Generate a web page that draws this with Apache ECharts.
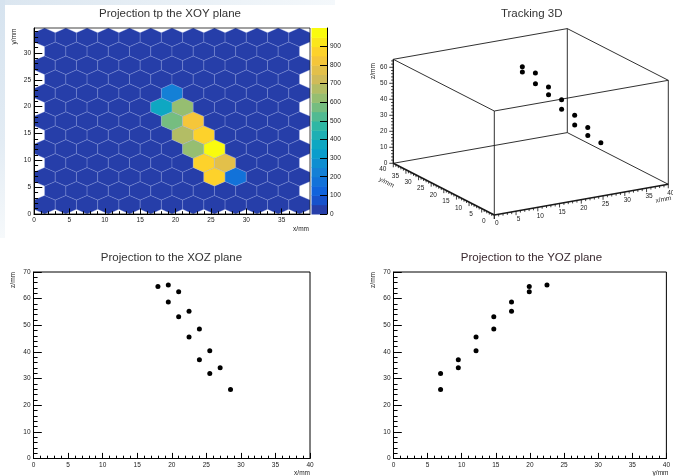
<!DOCTYPE html>
<html>
<head>
<meta charset="utf-8">
<title>Tracking</title>
<script src="https://cdn.jsdelivr.net/npm/echarts@6/dist/echarts.min.js"></script>
<style>
  html, body { margin: 0; padding: 0; background: #ffffff; }
  #c { width: 673px; height: 476px; }
</style>
</head>
<body>
<div id="c"></div>
<script>
// ---- reconstructed hits (mm) ----
const hitX = [18.0, 19.5, 21.0, 19.5, 22.5, 21.0, 24.0, 22.5, 25.5, 24.0, 27.0, 25.5, 28.5];
const hitY = [19.9, 22.5, 19.9, 17.3, 17.3, 14.7, 14.7, 12.1, 12.1, 9.5, 9.5, 6.9, 6.9];
const hitZ = [64.6, 65.1, 62.6, 58.7, 55.3, 53.2, 48.6, 45.6, 40.4, 37.1, 34.1, 31.9, 25.9];
// charge collected by the honeycomb cell of each hit
const hitCharge = [370, 220, 625, 575, 815, 680, 890, 620, 998, 885, 750, 860, 175];

// ---- axis tick values ----
const hexXLabels = [0, 5, 10, 15, 20, 25, 30, 35];
const hexYLabels = [0, 5, 10, 15, 20, 25, 30];
const paletteLabels = [0, 100, 200, 300, 400, 500, 600, 700, 800, 900];
const projXLabels = [0, 5, 10, 15, 20, 25, 30, 35, 40];
const projZLabels = [0, 10, 20, 30, 40, 50, 60, 70];
const cubeXYLabels = [0, 5, 10, 15, 20, 25, 30, 35, 40];
const cubeZLabels = [0, 10, 20, 30, 40, 50, 60];

const FONT = '"Liberation Sans", Arial, Helvetica, sans-serif';

// ---- honeycomb binning (TH2Poly::Honeycomb style) ----
const SIDE = Math.sqrt(3);          // hexagon side
const NCOL = 13, NROW = 13;
const HALFW = SIDE * Math.sqrt(3) / 2;
const hexXMax = NCOL * 2 * HALFW;              // right edge of the even rows
const hexYMax = SIDE / 2 + 1.5 * SIDE * NROW;  // top vertex of the last row
const cells = [];
for (let r = 0; r < NROW; r++) {
  const n = r % 2 === 0 ? NCOL : NCOL - 1;
  const x0 = r % 2 === 0 ? 0 : HALFW;
  const cy = SIDE + 1.5 * SIDE * r;
  for (let k = 0; k < n; k++) {
    cells.push([x0 + HALFW + 2 * HALFW * k, cy, 0]);
  }
}
hitX.forEach((hx, i) => {
  let best = null, bd = 1e9;
  cells.forEach(c => {
    const d = Math.hypot(c[0] - hx, c[1] - hitY[i]);
    if (d < bd) { bd = d; best = c; }
  });
  best[2] += hitCharge[i];
});
const zMax = Math.max(...cells.map(c => c[2]));
const NCONT = 20;

// kBird colour palette
const birdStops = [
  [0.2082, 0.1664, 0.5293], [0.0592, 0.3599, 0.8684], [0.0780, 0.5041, 0.8385],
  [0.0232, 0.6419, 0.7914], [0.1802, 0.7178, 0.6425], [0.5301, 0.7492, 0.4662],
  [0.8186, 0.7328, 0.3499], [0.9956, 0.7862, 0.1968], [0.9764, 0.9832, 0.0539]
];
function bird(f) {
  f = Math.max(0, Math.min(1, f));
  const s = f * (birdStops.length - 1);
  const i = Math.min(birdStops.length - 2, Math.floor(s));
  const t = s - i;
  const c = birdStops[i].map((v, j) => Math.round(255 * (v + (birdStops[i + 1][j] - v) * t)));
  return 'rgb(' + c.join(',') + ')';
}
function bandColor(band) { return bird((band + 0.99) / NCONT); }
function valueColor(v) {
  const band = Math.min(NCONT - 1, Math.floor(v / zMax * NCONT));
  return bandColor(band);
}
const bands = [];
for (let b = 0; b < NCONT; b++) bands.push([b * zMax / NCONT, (b + 1) * zMax / NCONT, b]);

// ---- 3D box (parallel projection) ----
const cubeRange = { x: [0, 40], y: [0, 40], z: [0, 65] };
const CUBE = { origin: [494.3, 215], ex: [174, -30.7], ey: [-101, -51.7], ez: [0, -104] };
function project(x, y, z) {
  const fx = (x - cubeRange.x[0]) / (cubeRange.x[1] - cubeRange.x[0]);
  const fy = (y - cubeRange.y[0]) / (cubeRange.y[1] - cubeRange.y[0]);
  const fz = (z - cubeRange.z[0]) / (cubeRange.z[1] - cubeRange.z[0]);
  return [
    CUBE.origin[0] + CUBE.ex[0] * fx + CUBE.ey[0] * fy + CUBE.ez[0] * fz,
    CUBE.origin[1] + CUBE.ex[1] * fx + CUBE.ey[1] * fy + CUBE.ez[1] * fz
  ];
}
const X0 = cubeRange.x[0], X1 = cubeRange.x[1], Y0 = cubeRange.y[0], Y1 = cubeRange.y[1], Z0 = cubeRange.z[0], Z1 = cubeRange.z[1];
const cubeEdges = [
  // bottom face (front two edges carry the axes)
  [[X0, Y0, Z0], [X1, Y0, Z0], 1.6], [[X0, Y0, Z0], [X0, Y1, Z0], 1.6],
  [[X1, Y0, Z0], [X1, Y1, Z0], 0.9], [[X0, Y1, Z0], [X1, Y1, Z0], 0.9],
  // top face
  [[X0, Y0, Z1], [X1, Y0, Z1], 0.9], [[X0, Y0, Z1], [X0, Y1, Z1], 0.9],
  [[X1, Y0, Z1], [X1, Y1, Z1], 0.9], [[X0, Y1, Z1], [X1, Y1, Z1], 0.9],
  // verticals
  [[X0, Y0, Z0], [X0, Y0, Z1], 0.9], [[X1, Y0, Z0], [X1, Y0, Z1], 0.9],
  [[X0, Y1, Z0], [X0, Y1, Z1], 1.4], [[X1, Y1, Z0], [X1, Y1, Z1], 0.9]
];
const cubeTicks = [];
for (let v = 0; v <= 40; v++) {
  cubeTicks.push({ axis: 'x', v, major: cubeXYLabels.includes(v) });
  cubeTicks.push({ axis: 'y', v, major: cubeXYLabels.includes(v) });
}
for (let v = 0; v <= 64; v += 2) cubeTicks.push({ axis: 'z', v, major: cubeZLabels.includes(v) });

// ---- helpers ----
function range(a, b, step) { const r = []; for (let v = a; v <= b + 1e-9; v += step) r.push(+v.toFixed(6)); return r; }
function axis(o) {
  return {
    type: 'value', gridIndex: o.grid, min: o.min, max: o.max, position: o.pos, z: 10,
    axisLine: { show: !!o.line, onZero: false, lineStyle: { color: '#000', width: 1 } },
    axisTick: { show: true, inside: true, length: o.len, customValues: o.ticks, lineStyle: { color: '#000', width: 1 } },
    axisLabel: o.labels ? {
      show: true, customValues: o.labels, fontSize: 6.5, color: '#1a1a1a', fontFamily: FONT,
      margin: o.margin == null ? 3 : o.margin, showMaxLabel: true, showMinLabel: true
    } : { show: false },
    splitLine: { show: false }
  };
}
function hiddenAxis(grid, min, max, inverse) {
  return { type: 'value', gridIndex: grid, min, max, inverse: !!inverse, show: false, splitLine: { show: false } };
}

const grids = [
  { left: 34, top: 28, width: 276, height: 186, z: 10, show: true, borderColor: '#111', borderWidth: 0.8, backgroundColor: 'transparent' }, // 0 XOY
  { left: 311.5, top: 28, width: 15.5, height: 186 },                                      // 1 palette
  { left: 33.5, top: 272, width: 276.5, height: 186.5, show: true, borderColor: '#000', borderWidth: 1, backgroundColor: 'transparent' }, // 2 XOZ
  { left: 393.5, top: 272, width: 275, height: 186.5, show: true, borderColor: '#000', borderWidth: 1, backgroundColor: 'transparent' },  // 3 YOZ
  { left: 0, top: 0, width: 673, height: 476 }                                              // 4 3D canvas
];

const minorsOf = (lo, hi, step, majors) => range(lo, hi, step).filter(v => !majors.includes(v));

const xAxes = [
  axis({ grid: 0, min: 0, max: hexXMax, pos: 'bottom', line: true, len: 5.6, ticks: hexXLabels, labels: hexXLabels }),           // 0
  axis({ grid: 0, min: 0, max: hexXMax, pos: 'bottom', len: 2.8, ticks: minorsOf(0, 38, 1, hexXLabels) }),                      // 1
  hiddenAxis(1, 0, 1),                                                                                                             // 2
  axis({ grid: 2, min: 0, max: 40, pos: 'bottom', line: true, len: 5.6, ticks: projXLabels, labels: projXLabels }),             // 3
  axis({ grid: 2, min: 0, max: 40, pos: 'bottom', len: 2.8, ticks: minorsOf(0, 40, 1, projXLabels) }),                          // 4
  axis({ grid: 3, min: 0, max: 40, pos: 'bottom', line: true, len: 5.6, ticks: projXLabels, labels: projXLabels }),             // 5
  axis({ grid: 3, min: 0, max: 40, pos: 'bottom', len: 2.8, ticks: minorsOf(0, 40, 1, projXLabels) }),                          // 6
  hiddenAxis(4, 0, 673)                                                                                                            // 7
];
const yAxes = [
  axis({ grid: 0, min: 0, max: hexYMax, pos: 'left', line: true, len: 8.3, ticks: hexYLabels, labels: hexYLabels }),            // 0
  axis({ grid: 0, min: 0, max: hexYMax, pos: 'left', len: 4.1, ticks: minorsOf(0, 34, 1, hexYLabels) }),                        // 1
  axis({ grid: 1, min: 0, max: zMax, pos: 'right', line: true, len: 7, ticks: paletteLabels, labels: paletteLabels }),          // 2
  axis({ grid: 2, min: 0, max: 70, pos: 'left', line: true, len: 8.3, ticks: projZLabels, labels: projZLabels }),               // 3
  axis({ grid: 2, min: 0, max: 70, pos: 'left', len: 4.1, ticks: minorsOf(0, 70, 2, projZLabels) }),                            // 4
  axis({ grid: 3, min: 0, max: 70, pos: 'left', line: true, len: 8.3, ticks: projZLabels, labels: projZLabels }),               // 5
  axis({ grid: 3, min: 0, max: 70, pos: 'left', len: 4.1, ticks: minorsOf(0, 70, 2, projZLabels) }),                            // 6
  hiddenAxis(4, 0, 476, true)                                                                                                      // 7
];

function textEl(x, y, text, size, opts) {
  return Object.assign({
    type: 'text', x, y, z: 20,
    style: Object.assign({ text, fill: '#1a1a1a', fontSize: size, fontFamily: FONT, align: 'center', verticalAlign: 'middle' }, (opts && opts.style) || {})
  }, opts && opts.rotation ? { rotation: opts.rotation } : {});
}

const graphics = [
  // soft page backdrop along the top-left border
  { type: 'rect', z: 0, shape: { x: 0, y: 0, width: 5, height: 238 },
    style: { fill: new echarts.graphic.LinearGradient(0, 0, 0, 1, [{ offset: 0, color: '#d6e3ef' }, { offset: 0.6, color: '#e3ecf4' }, { offset: 1, color: '#f6f9fb' }]) } },
  { type: 'rect', z: 0, shape: { x: 5, y: 0, width: 330, height: 5 },
    style: { fill: new echarts.graphic.LinearGradient(0, 0, 1, 0, [{ offset: 0, color: '#dbe6f0' }, { offset: 1, color: '#f4f8fb' }]) } },
  textEl(170, 14, 'Projection tp the XOY plane', 11.5, { style: { fill: '#333' } }),
  textEl(531.7, 14, 'Tracking 3D', 11.5, { style: { fill: '#333' } }),
  textEl(171.5, 258, 'Projection to the XOZ plane', 11.5, { style: { fill: '#333' } }),
  textEl(531.5, 258, 'Projection to the YOZ plane', 11.5, { style: { fill: '#3a2a30' } }),
  // axis titles
  textEl(14.3, 28.5, 'y/mm', 6.5, { rotation: Math.PI / 2, style: { align: 'right' } }),
  textEl(309, 229.5, 'x/mm', 6.5, { style: { align: 'right' } }),
  textEl(13.5, 272, 'z/mm', 6.5, { rotation: Math.PI / 2, style: { align: 'right' } }),
  textEl(310, 473.5, 'x/mm', 6.5, { style: { align: 'right' } }),
  textEl(373.5, 272, 'z/mm', 6.5, { rotation: Math.PI / 2, style: { align: 'right' } }),
  textEl(668.5, 473.5, 'y/mm', 6.5, { style: { align: 'right' } }),
  textEl(373.3, 71, 'z/mm', 6.5, { rotation: Math.PI / 2 }),
  textEl(386.5, 182.5, 'y/mm', 6.5, { rotation: -0.47 }),
  textEl(663.5, 199.5, 'x/mm', 6.5, { rotation: 0.175 })
];

const option = {
  animation: false,
  backgroundColor: '#ffffff',
  grid: grids,
  xAxis: xAxes,
  yAxis: yAxes,
  graphic: { elements: graphics },
  series: [
    // honeycomb cells
    {
      type: 'custom', xAxisIndex: 0, yAxisIndex: 0, clip: true, z: 2,
      data: cells,
      renderItem(params, api) {
        const cx = api.value(0), cy = api.value(1), v = api.value(2);
        const pts = [];
        for (let i = 0; i < 6; i++) {
          const ang = Math.PI / 6 + i * Math.PI / 3;
          pts.push(api.coord([cx + SIDE * Math.cos(ang), cy + SIDE * Math.sin(ang)]));
        }
        return {
          type: 'polygon', shape: { points: pts },
          style: { fill: valueColor(v), stroke: 'rgba(150,165,225,0.45)', lineWidth: 0.7 }
        };
      }
    },
    // colour palette
    {
      type: 'custom', xAxisIndex: 2, yAxisIndex: 2, z: 2,
      data: bands,
      renderItem(params, api) {
        const p0 = api.coord([0, api.value(0)]);
        const p1 = api.coord([1, api.value(1)]);
        return {
          type: 'rect',
          shape: { x: p0[0], y: p1[1], width: p1[0] - p0[0], height: p0[1] - p1[1] + 0.5 },
          style: { fill: bandColor(api.value(2)) }
        };
      }
    },
    // XOZ projection
    {
      type: 'scatter', xAxisIndex: 3, yAxisIndex: 3, z: 5, symbol: 'circle', symbolSize: 5,
      itemStyle: { color: '#000', opacity: 1 },
      data: hitX.map((x, i) => [x, hitZ[i]])
    },
    // YOZ projection
    {
      type: 'scatter', xAxisIndex: 5, yAxisIndex: 5, z: 5, symbol: 'circle', symbolSize: 5,
      itemStyle: { color: '#000', opacity: 1 },
      data: hitY.map((y, i) => [y, hitZ[i]])
    },
    // 3D box edges
    {
      type: 'custom', xAxisIndex: 7, yAxisIndex: 7, z: 3,
      data: cubeEdges.map((e, i) => [i]),
      renderItem(params, api) {
        const e = cubeEdges[params.dataIndex];
        const a = api.coord(project(...e[0]));
        const b = api.coord(project(...e[1]));
        return { type: 'line', shape: { x1: a[0], y1: a[1], x2: b[0], y2: b[1] }, style: { stroke: '#1a1a1a', lineWidth: e[2] } };
      }
    },
    // 3D axis ticks and labels
    {
      type: 'custom', xAxisIndex: 7, yAxisIndex: 7, z: 4,
      data: cubeTicks.map((t, i) => [i]),
      renderItem(params, api) {
        const t = cubeTicks[params.dataIndex];
        let p, d, off, align;
        if (t.axis === 'x') { p = project(t.v, Y0, Z0); d = [0, 1]; off = [2.5, 8.5]; align = 'center'; }
        else if (t.axis === 'y') { p = project(X0, t.v, Z0); d = [0, 1]; off = [-10.5, 6]; align = 'center'; }
        else { p = project(X0, Y1, t.v); d = [-1, 0]; off = [-6, 0]; align = 'right'; }
        const a = api.coord(p);
        const len = t.major ? 4 : 2.2;
        const children = [{
          type: 'line', shape: { x1: a[0], y1: a[1], x2: a[0] + d[0] * len, y2: a[1] + d[1] * len },
          style: { stroke: '#111', lineWidth: 0.8 }
        }];
        if (t.major) {
          children.push({
            type: 'text', x: a[0] + off[0], y: a[1] + off[1],
            style: { text: String(t.v), fill: '#1a1a1a', fontSize: 6.5, fontFamily: FONT, align, verticalAlign: 'middle' }
          });
        }
        return { type: 'group', children };
      }
    },
    // 3D hits
    {
      type: 'scatter', xAxisIndex: 7, yAxisIndex: 7, z: 6, symbol: 'circle', symbolSize: 5,
      itemStyle: { color: '#000', opacity: 1 },
      data: hitX.map((x, i) => project(x, hitY[i], hitZ[i]))
    }
  ]
};

const chart = echarts.init(document.getElementById('c'), null, { renderer: 'canvas', width: 673, height: 476 });
chart.setOption(option);
</script>
</body>
</html>
